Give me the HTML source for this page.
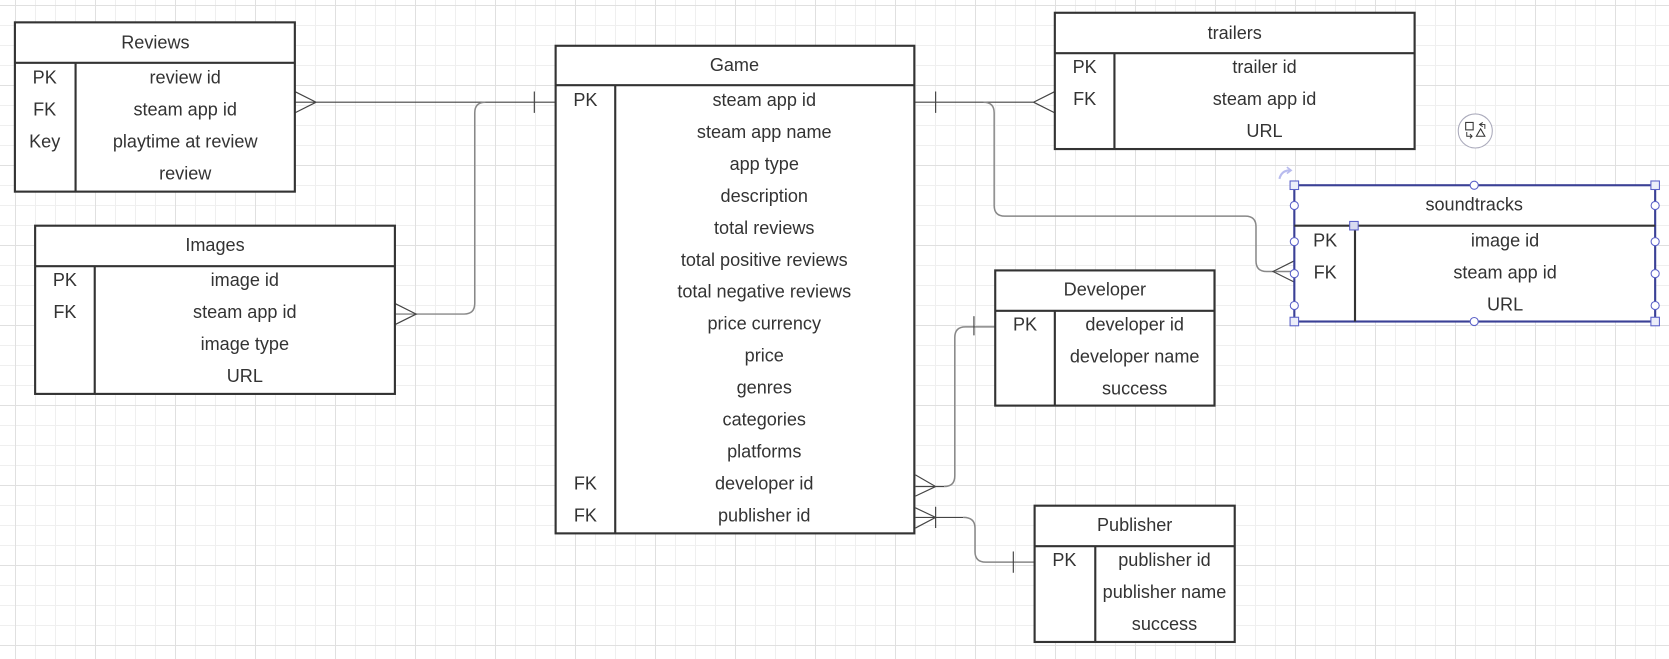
<!DOCTYPE html>
<html><head><meta charset="utf-8"><style>
html,body{margin:0;padding:0;width:1669px;height:659px;overflow:hidden;background:#fff;}
body{background-color:#fff;
background-image:
linear-gradient(to right,#e0e0e0 1px,transparent 1px),
linear-gradient(to bottom,#e0e0e0 1px,transparent 1px),
linear-gradient(to right,#efefef 1px,transparent 1px),
linear-gradient(to bottom,#efefef 1px,transparent 1px);
background-size:80px 80px,80px 80px,20px 20px,20px 20px;
background-position:15px 5px,15px 5px,15px 5px,15px 5px;}
svg{position:absolute;left:0;top:0;}
text{font-family:"Liberation Sans",sans-serif;font-size:17px;fill:#333;text-anchor:middle;dominant-baseline:central;}
.b{fill:#fff;stroke:#333;stroke-width:2;}
.l{stroke:#333;stroke-width:2;fill:none;}
.c{stroke:#444;stroke-width:1.1;fill:none;}
.g{stroke:#888;stroke-width:1.4;fill:none;}
</style></head><body>
<svg width="1669" height="659" viewBox="0 0 1568 619" preserveAspectRatio="none">
<path class="c" d="M277,86 L297,96 L277,106 M277,96 L522,96 M502,86 L502,106"/>
<path class="g" d="M371,295 L436,295 Q446,295 446,285 L446,106 Q446,96 456,96"/>
<path class="c" d="M371,285 L391,295 L371,305"/>
<path class="c" d="M859,96 L971,96 M991,86 L971,96 L991,106 M879,86 L879,106"/>
<path class="g" d="M924,96 Q934,96 934,106 L934,193 Q934,203 944,203 L1170,203 Q1180,203 1180,213 L1180,245 Q1180,255 1190,255 L1216,255"/>
<path class="c" d="M1216,245 L1196,255 L1216,265"/>
<path class="c" d="M860,446 L879,457 L860,466 M860,457 L887,457"/>
<path class="g" d="M887,457 Q897,457 897,447 L897,317 Q897,307 907,307 L935,307"/>
<path class="c" d="M915,297 L915,315"/>
<path class="c" d="M860,477 L879,486 L860,496 M860,486 L905,486 M879,476 L879,496"/>
<path class="g" d="M905,486 Q916,486 916,496 L916,518 Q916,528 926,528 L972,528"/>
<path class="c" d="M952,518 L952,538"/>

<g transform="translate(0,1)">
<rect class="b" x="14" y="20" width="263" height="159"/>
<path class="l" d="M14,58 L277,58 M71,58 L71,179"/>
<text x="146" y="39">Reviews</text>
<text x="42" y="72">PK</text><text x="174" y="72">review id</text>
<text x="42" y="102">FK</text><text x="174" y="102">steam app id</text>
<text x="42" y="132">Key</text><text x="174" y="132">playtime at review</text>
<text x="174" y="162">review</text>

<rect class="b" x="33" y="211" width="338" height="158"/>
<path class="l" d="M33,249 L371,249 M89,249 L89,369"/>
<text x="202" y="229">Images</text>
<text x="61" y="262">PK</text><text x="230" y="262">image id</text>
<text x="61" y="292">FK</text><text x="230" y="292">steam app id</text>
<text x="230" y="322">image type</text>
<text x="230" y="352">URL</text>

<rect class="b" x="522" y="42" width="337" height="458"/>
<path class="l" d="M522,79 L859,79 M578,79 L578,500"/>
<text x="690" y="60">Game</text>
<text x="550" y="93">PK</text><text x="718" y="93">steam app id</text>
<text x="718" y="123">steam app name</text>
<text x="718" y="153">app type</text>
<text x="718" y="183">description</text>
<text x="718" y="213">total reviews</text>
<text x="718" y="243">total positive reviews</text>
<text x="718" y="273">total negative reviews</text>
<text x="718" y="303">price currency</text>
<text x="718" y="333">price</text>
<text x="718" y="363">genres</text>
<text x="718" y="393">categories</text>
<text x="718" y="423">platforms</text>
<text x="550" y="453">FK</text><text x="718" y="453">developer id</text>
<text x="550" y="483">FK</text><text x="718" y="483">publisher id</text>

<rect class="b" x="991" y="11" width="338" height="128"/>
<path class="l" d="M991,49 L1329,49 M1047,49 L1047,139"/>
<text x="1160" y="30">trailers</text>
<text x="1019" y="62">PK</text><text x="1188" y="62">trailer id</text>
<text x="1019" y="92">FK</text><text x="1188" y="92">steam app id</text>
<text x="1188" y="122">URL</text>

<rect class="b" x="935" y="253" width="206" height="127"/>
<path class="l" d="M935,291 L1141,291 M991,291 L991,380"/>
<text x="1038" y="271">Developer</text>
<text x="963" y="304">PK</text><text x="1066" y="304">developer id</text>
<text x="1066" y="334">developer name</text>
<text x="1066" y="364">success</text>

<rect class="b" x="972" y="474" width="188" height="128"/>
<path class="l" d="M972,512 L1160,512 M1029,512 L1029,602"/>
<text x="1066" y="492">Publisher</text>
<text x="1000" y="525">PK</text><text x="1094" y="525">publisher id</text>
<text x="1094" y="555">publisher name</text>
<text x="1094" y="585">success</text>
</g>

<rect x="1216" y="174" width="339" height="128" fill="#fff" stroke="#3b4196" stroke-width="2"/>
<path class="l" d="M1216,212 L1555,212 M1273,212 L1273,302"/>
<text x="1385" y="192">soundtracks</text>
<text x="1245" y="226">PK</text><text x="1414" y="226">image id</text>
<text x="1245" y="256">FK</text><text x="1414" y="256">steam app id</text>
<text x="1414" y="286">URL</text>
<g fill="#fff" stroke="#5b61c8" stroke-width="1">
<circle cx="1385" cy="174" r="3.8"/><circle cx="1385" cy="302" r="3.8"/>
<circle cx="1216" cy="193" r="3.8"/><circle cx="1216" cy="227" r="3.8"/><circle cx="1216" cy="257" r="3.8"/><circle cx="1216" cy="287" r="3.8"/>
<circle cx="1555" cy="193" r="3.8"/><circle cx="1555" cy="227" r="3.8"/><circle cx="1555" cy="257" r="3.8"/><circle cx="1555" cy="287" r="3.8"/>
</g>
<g fill="#eceef9" stroke="#5b61c8" stroke-width="1">
<rect x="1212" y="170" width="8" height="8"/><rect x="1551" y="170" width="8" height="8"/>
<rect x="1212" y="298" width="8" height="8"/><rect x="1551" y="298" width="8" height="8"/>
<rect x="1268" y="208" width="8" height="8" fill="#d8dbf0"/>
</g>
<path d="M1202,168 Q1204,160 1212,160" stroke="#b8bbee" stroke-width="2" fill="none"/>
<path d="M1209,157 L1213,160 L1209,163" stroke="#b8bbee" stroke-width="1.5" fill="none"/>
<circle cx="1386" cy="123" r="16" fill="#fff" stroke="#aab" stroke-width="1"/>
<rect x="1377" y="115" width="7" height="7" fill="none" stroke="#333" stroke-width="1"/>
<path d="M1387,128 L1391,121 L1395,128 Z" fill="none" stroke="#333" stroke-width="1"/>
<path d="M1393,115 L1390,117 L1393,119 M1390,117 L1395,117 L1395,121" fill="none" stroke="#333" stroke-width="0.9"/>
<path d="M1378,124 L1378,128 L1383,128 M1381,126 L1383,128 L1381,130" fill="none" stroke="#333" stroke-width="0.9"/>
</svg>
</body></html>
